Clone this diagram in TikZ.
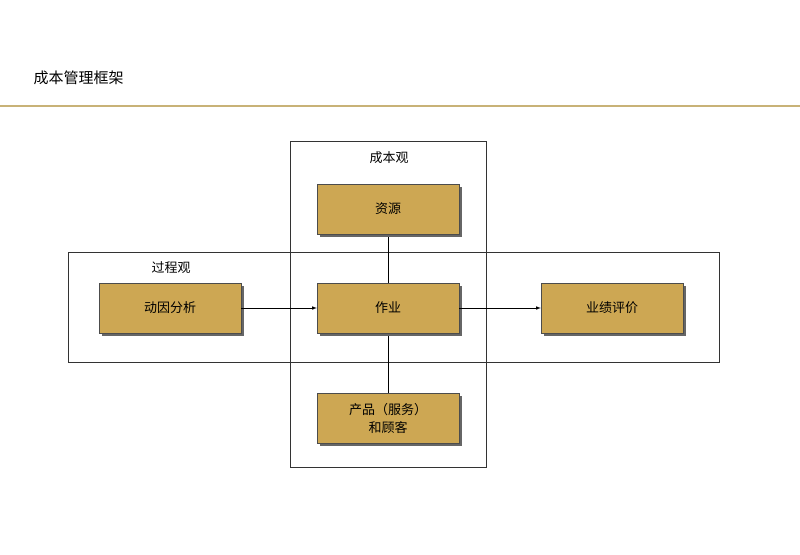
\documentclass[tikz,border=0pt]{standalone}
\usepackage{fontspec}
\newfontfamily\cjk{Noto Sans CJK SC}
\usetikzlibrary{shadows}
\definecolor{gold}{HTML}{CDA753}
\definecolor{rule}{HTML}{C8B277}
\begin{document}
\begin{tikzpicture}[x=1pt,y=-1pt,font=\cjk\fontsize{13}{16}\selectfont,
 box/.style={draw=black!70,fill=gold,minimum width=142pt,minimum height=50pt,inner sep=0pt,align=center,
   drop shadow={shadow xshift=3pt,shadow yshift=-3pt,fill=black!60,opacity=1}},
 frame/.style={draw=black!80,line width=0.6pt},
 arr/.style={-latex,line width=0.6pt}]
\useasboundingbox (0,0) rectangle (800,554);
\node[anchor=west,font=\cjk\fontsize{15}{18}\selectfont] (title) at (30,78) {成本管理框架};
\draw[rule,line width=1.2pt] (0,106) -- (800,106);
\draw[frame] (290,141) rectangle (486,467);
\draw[frame] (68,252) rectangle (719,362);
\draw[line width=0.6pt] (388,234) -- (388,393);
\node (cb) at (389,158) {成本观};
\node (gc) at (171,268) {过程观};
\node[box] (zy) at (388,209) {资源};
\node[box] (zuo) at (388,308) {作业};
\node[box] (dy) at (170,308) {动因分析};
\node[box] (yj) at (612,308) {业绩评价};
\node[box,font=\cjk\fontsize{13}{18}\selectfont] (cp) at (388,418) {产品（服务）\\和顾客};
\draw[arr] (dy) -- (zuo);
\draw[arr] (zuo) -- (yj);
\end{tikzpicture}
\end{document}
